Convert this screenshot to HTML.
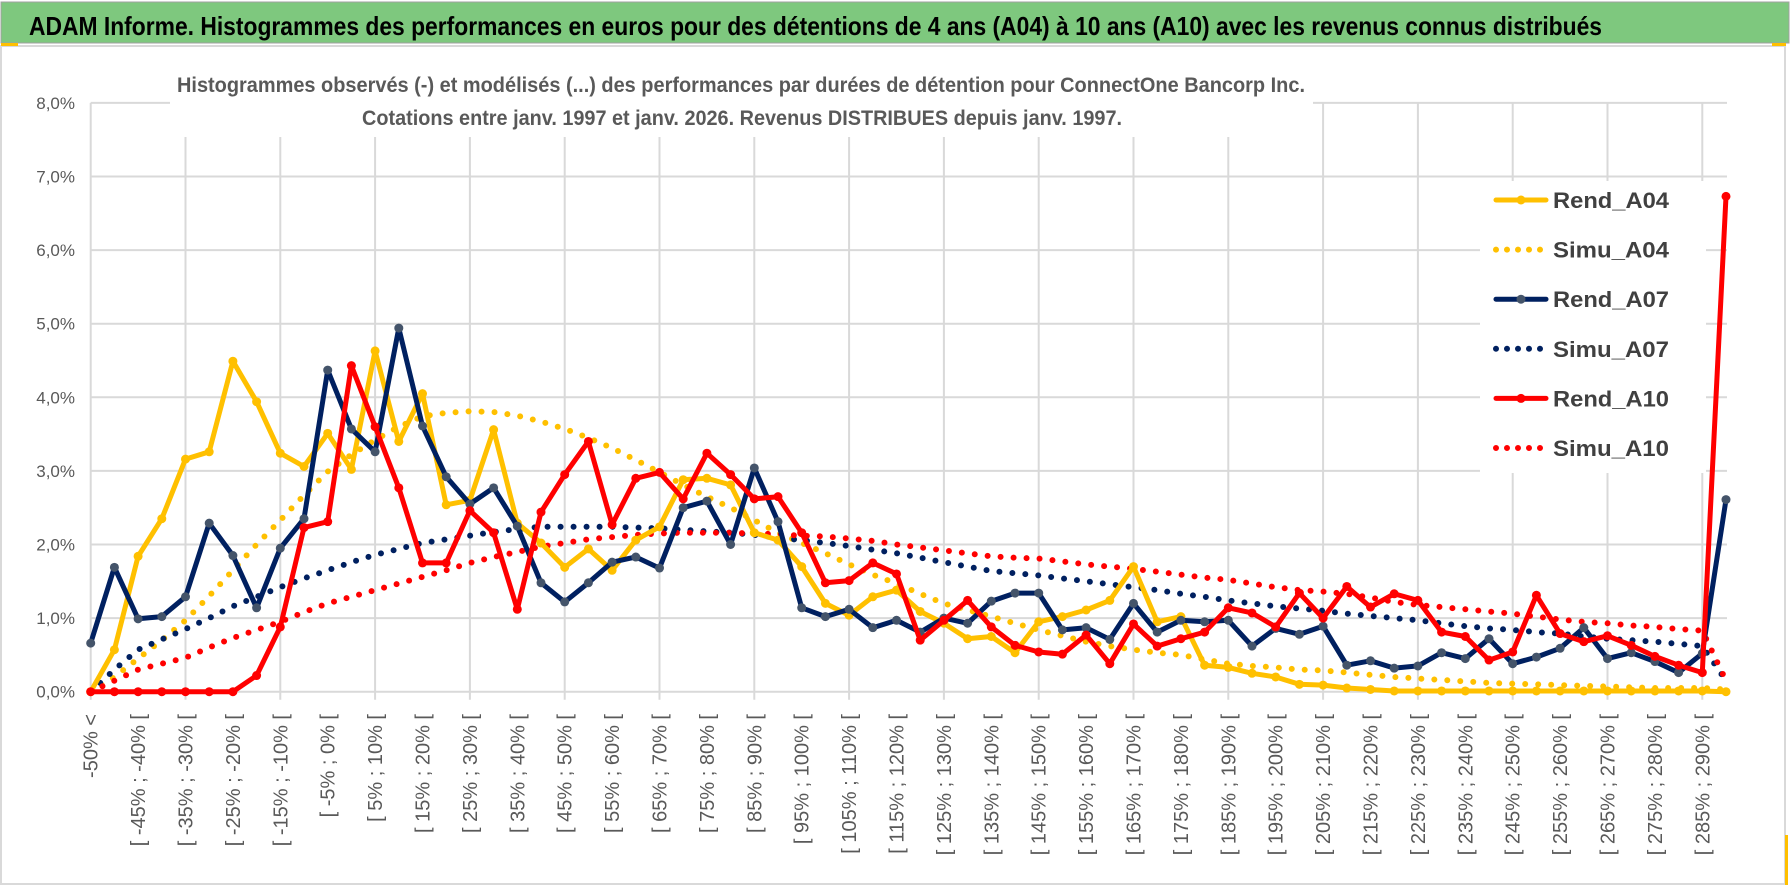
<!DOCTYPE html>
<html><head><meta charset="utf-8">
<style>
html,body{margin:0;padding:0;background:#fff;}
svg{display:block;font-family:"Liberation Sans",sans-serif;}
</style></head>
<body>
<svg id="chart" width="1790" height="888" viewBox="0 0 1790 888" xmlns="http://www.w3.org/2000/svg">
  <rect x="0" y="0" width="1790" height="888" fill="#fff"/>
  <rect x="1" y="2" width="1788" height="41" fill="#7ec87e" stroke="#a0a0a0" stroke-width="1"/>
  <text x="29" y="35" font-size="26" font-weight="bold" fill="#000" textLength="1573" lengthAdjust="spacingAndGlyphs">ADAM Informe. Histogrammes des performances en euros pour des détentions de 4 ans (A04) à 10 ans (A10) avec les revenus connus distribués</text>
  <rect x="1" y="46" width="1784" height="838" fill="none" stroke="#d9d9d9" stroke-width="2"/>
  <rect x="1" y="43" width="17" height="3" fill="#ffc000"/>
  <rect x="1772" y="43" width="14" height="3" fill="#ffc000"/>
  <rect x="1785" y="835" width="3" height="50" fill="#ffc000"/>
  <g id="grid"></g>
  <rect x="170" y="60" width="1143" height="77" fill="#fff"/>
  <text x="177" y="92" font-size="21" font-weight="bold" fill="#595959" textLength="1128" lengthAdjust="spacingAndGlyphs">Histogrammes observés (-) et modélisés (...) des performances par durées de détention pour ConnectOne Bancorp Inc.</text>
  <text x="362" y="125" font-size="21" font-weight="bold" fill="#595959" textLength="760" lengthAdjust="spacingAndGlyphs">Cotations entre janv. 1997 et janv. 2026. Revenus DISTRIBUES depuis janv. 1997.</text>
  <g id="yaxis"></g>
  <g id="xaxis"></g>
  <rect x="1480" y="181" width="226" height="292" fill="#fff"/>
  <g id="series"></g>
  <g id="legend"></g>
</svg>
<script>
const categories = [];
for (let i = 0; i < 70; i++) {
  if (i === 0) categories.push("-50% <");
  else categories.push("[ " + (-55 + 5 * i) + "% ; " + (-50 + 5 * i) + "% [");
}
const yTicks = [0, 1, 2, 3, 4, 5, 6, 7, 8];
const yTickLabels = ["0,0%", "1,0%", "2,0%", "3,0%", "4,0%", "5,0%", "6,0%", "7,0%", "8,0%"];

const rendA04 = [0,0.57,1.84,2.35,3.16,3.26,4.49,3.94,3.24,3.06,3.51,3.02,4.63,3.40,4.05,2.54,2.60,3.56,2.29,2.02,1.69,1.94,1.65,2.06,2.24,2.88,2.90,2.81,2.16,2.06,1.70,1.20,1.04,1.29,1.38,1.09,0.93,0.72,0.75,0.53,0.95,1.02,1.11,1.24,1.70,0.95,1.02,0.36,0.33,0.25,0.20,0.10,0.09,0.05,0.03,0.01,0.01,0.01,0.01,0.01,0.01,0.01,0.01,0.01,0.01,0.01,0.01,0.01,0.01,0];
const simuA04 = [0,0.2,0.45,0.7,0.97,1.3,1.65,2.0,2.33,2.67,2.99,3.22,3.42,3.6,3.74,3.79,3.81,3.80,3.75,3.67,3.57,3.45,3.31,3.15,2.98,2.81,2.65,2.50,2.33,2.16,2.02,1.88,1.73,1.59,1.47,1.33,1.20,1.11,1.02,0.93,0.84,0.76,0.68,0.62,0.57,0.53,0.50,0.44,0.38,0.35,0.33,0.30,0.29,0.26,0.23,0.2,0.18,0.16,0.14,0.12,0.11,0.10,0.09,0.08,0.07,0.06,0.05,0.05,0.05,0.03];
const rendA07 = [0.66,1.69,0.99,1.02,1.29,2.29,1.85,1.14,1.95,2.35,4.37,3.57,3.26,4.94,3.61,2.92,2.55,2.77,2.25,1.48,1.22,1.48,1.76,1.83,1.68,2.50,2.59,2.00,3.04,2.31,1.14,1.02,1.12,0.87,0.97,0.81,1.00,0.93,1.23,1.34,1.34,0.84,0.87,0.71,1.20,0.81,0.97,0.95,0.97,0.62,0.86,0.78,0.89,0.36,0.42,0.32,0.35,0.53,0.45,0.72,0.38,0.47,0.59,0.87,0.45,0.53,0.41,0.26,0.52,2.61];
const simuA07 = [0,0.3,0.57,0.71,0.85,1.0,1.16,1.29,1.42,1.54,1.65,1.76,1.86,1.94,2.02,2.07,2.12,2.17,2.21,2.24,2.24,2.24,2.24,2.23,2.22,2.20,2.18,2.16,2.13,2.09,2.06,2.02,1.98,1.93,1.88,1.82,1.76,1.70,1.64,1.61,1.58,1.54,1.50,1.46,1.42,1.38,1.33,1.29,1.24,1.20,1.16,1.13,1.10,1.06,1.03,1.00,0.97,0.93,0.89,0.86,0.84,0.81,0.79,0.75,0.72,0.70,0.68,0.65,0.62,0.15];
const rendA10 = [0,0,0,0,0,0,0,0.22,0.88,2.23,2.31,4.43,3.60,2.77,1.75,1.75,2.46,2.16,1.12,2.44,2.95,3.40,2.27,2.90,2.98,2.62,3.24,2.95,2.62,2.65,2.16,1.48,1.51,1.75,1.60,0.70,0.97,1.24,0.88,0.63,0.54,0.51,0.77,0.38,0.92,0.62,0.72,0.81,1.14,1.07,0.88,1.34,1.00,1.43,1.15,1.33,1.24,0.81,0.75,0.43,0.54,1.31,0.79,0.68,0.76,0.63,0.48,0.36,0.26,6.73];
const simuA10 = [0,0.15,0.3,0.38,0.46,0.6,0.73,0.84,0.95,1.08,1.2,1.29,1.38,1.47,1.56,1.65,1.75,1.83,1.90,1.97,2.02,2.07,2.10,2.13,2.15,2.16,2.16,2.16,2.15,2.14,2.12,2.11,2.08,2.05,2.0,1.96,1.92,1.88,1.84,1.82,1.81,1.77,1.73,1.70,1.67,1.63,1.59,1.55,1.52,1.47,1.42,1.38,1.36,1.33,1.28,1.22,1.18,1.15,1.12,1.09,1.06,1.02,0.98,0.95,0.93,0.90,0.88,0.85,0.83,0.15];

const NS = "http://www.w3.org/2000/svg";
const X0 = 90.7, DX = 23.7, Y0 = 691.7, DY = 73.6, XR = 1727;
function xPos(i) { return X0 + DX * i; }
function yPos(v) { return Y0 - DY * v; }
function mk(tag, attrs, parent) {
  const e = document.createElementNS(NS, tag);
  for (const k in attrs) e.setAttribute(k, attrs[k]);
  parent.appendChild(e);
  return e;
}
const grid = document.getElementById('grid');
yTicks.forEach(function (t) {
  const l = mk('line', {x1: X0, x2: XR, y1: yPos(t), y2: yPos(t), stroke: '#d9d9d9', 'stroke-width': 2}, grid);
  
  
});
for (let i = 0; i < categories.length; i += 4) {
  const l = mk('line', {x1: xPos(i), x2: xPos(i), y1: yPos(8), y2: Y0 + 8, stroke: '#d9d9d9', 'stroke-width': 2}, grid);
  
  
}
const ya = document.getElementById('yaxis');
yTicks.forEach(function (t, k) {
  const tx = mk('text', {x: 75, y: yPos(t) + 6, 'font-size': 17, fill: '#595959', 'text-anchor': 'end'}, ya);
  tx.textContent = yTickLabels[k];
  
  
});
const xa = document.getElementById('xaxis');
categories.forEach(function (c, i) {
  if (i % 2 !== 0) return;
  const x = xPos(i) + 7;
  const tx = mk('text', {x: x, y: 714, 'font-size': 20, fill: '#595959', 'text-anchor': 'end', transform: 'rotate(-90 ' + x + ' 714)'}, xa);
  tx.textContent = c;
  
  
});
const sg = document.getElementById('series');
function pathD(arr) { return arr.map(function (v, i) { return (i ? 'L' : 'M') + xPos(i).toFixed(1) + ' ' + yPos(v).toFixed(1); }).join(' '); }
function dotted(arr, color, name) {
  const p = mk('path', {d: pathD(arr), fill: 'none', stroke: color, 'stroke-width': 6, 'stroke-linecap': 'round', 'stroke-dasharray': '0 13'}, sg);
  
  
}
function solid(arr, color, mcolor, name) {
  const g = mk('g', {}, sg);
  
  
  mk('path', {d: pathD(arr), fill: 'none', stroke: color, 'stroke-width': 5, 'stroke-linejoin': 'round'}, g);
  arr.forEach(function (v, i) {
    const c = mk('circle', {cx: xPos(i), cy: yPos(v), r: 4.5, fill: mcolor}, g);
    
    
  });
}
dotted(simuA04, '#ffc000', 'simu-a04-line');
dotted(simuA07, '#002060', 'simu-a07-line');
dotted(simuA10, '#ff0000', 'simu-a10-line');
solid(rendA04, '#ffc000', '#ffc000', 'rend-a04-line');
solid(rendA07, '#002060', '#44546a', 'rend-a07-line');
solid(rendA10, '#ff0000', '#ff0000', 'rend-a10-line');

const lg = document.getElementById('legend');
const legendNames = ['Rend_A04', 'Simu_A04', 'Rend_A07', 'Simu_A07', 'Rend_A10', 'Simu_A10'];
const legendColors = ['#ffc000', '#ffc000', '#002060', '#002060', '#ff0000', '#ff0000'];
const legendMarkers = ['#ffc000', null, '#44546a', null, '#ff0000', null];
legendNames.forEach(function (n, k) {
  const y = 200 + k * 49.6;
  const g = mk('g', {}, lg);
  
  
  if (legendMarkers[k]) {
    mk('line', {x1: 1496, x2: 1546, y1: y, y2: y, stroke: legendColors[k], 'stroke-width': 5, 'stroke-linecap': 'round'}, g);
    mk('circle', {cx: 1521, cy: y, r: 4.5, fill: legendMarkers[k]}, g);
  } else {
    mk('line', {x1: 1496, x2: 1546, y1: y, y2: y, stroke: legendColors[k], 'stroke-width': 6, 'stroke-linecap': 'round', 'stroke-dasharray': '0 11'}, g);
  }
  const t = mk('text', {x: 1553, y: y + 8, 'font-size': 22, 'font-weight': 'bold', fill: '#404040', textLength: 116, lengthAdjust: 'spacingAndGlyphs'}, g);
  t.textContent = n;
});
</script>
</body></html>
